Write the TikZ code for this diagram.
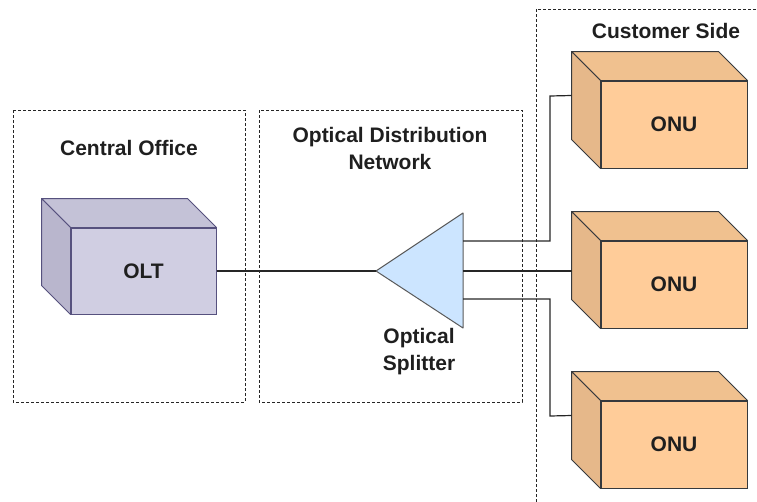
\documentclass[tikz,border=0pt]{standalone}
\usepackage{fontspec}
\setmainfont{Liberation Sans}
\begin{document}
\begin{tikzpicture}[x=1pt,y=-1pt,
  lbl/.style={font=\bfseries\fontsize{21}{27}\selectfont, text=black!88, align=center, inner sep=0pt},
  zone/.style={draw=black!85, line width=0.9pt, dash pattern=on 3pt off 2pt},
  olt/.style={draw=oltS, fill=oltF, line width=1pt, minimum width=145pt, minimum height=86pt, inner sep=0pt, font=\bfseries\fontsize{21}{24}\selectfont, text=black!88},
  onu/.style={draw=onuS, fill=onuF, line width=1pt, minimum width=146pt, minimum height=87pt, inner sep=0pt, font=\bfseries\fontsize{21}{24}\selectfont, text=black!88},
  face/.style={line width=1pt, line join=round},
  wire/.style={draw=black!85, line width=1.2pt}
]
\definecolor{oltF}{HTML}{D0CEE2}
\definecolor{oltT}{HTML}{C4C2D7}
\definecolor{oltL}{HTML}{B9B6CD}
\definecolor{oltS}{HTML}{56517E}
\definecolor{onuF}{HTML}{FFCC99}
\definecolor{onuT}{HTML}{F0C18F}
\definecolor{onuL}{HTML}{E6B88A}
\definecolor{onuS}{HTML}{36393D}
\definecolor{splF}{HTML}{CCE5FF}
\definecolor{splS}{HTML}{5A5A5A}

\useasboundingbox (0,0) rectangle (757,501);
\clip (0,0) rectangle (757,501);

% zones
\draw[zone] (13,110) rectangle (245,402);
\draw[zone] (259,110) rectangle (522,402);
\draw[zone] (536,9) rectangle (780,520);

\node[lbl] (colbl) at (129,148) {Central Office};
\node[lbl] (odnlbl) at (390,148.5) {Optical Distribution\\Network};
\node[lbl] (cslbl) at (666,31) {Customer Side};

% OLT
\node[olt] (olt) at (143.5,271) {OLT};
\fill[face, fill=oltT, draw=oltS] (olt.north west) -- ++(-29pt,29pt) -- ([shift={(-29pt,29pt)}]olt.north east) -- (olt.north east) -- cycle;
\fill[face, fill=oltL, draw=oltS] (olt.north west) -- ++(-29pt,29pt) -- ([shift={(-29pt,29pt)}]olt.south west) -- (olt.south west) -- cycle;

% ONUs
\foreach \n/\y in {onu1/124.5, onu2/284.5, onu3/444.5}{
  \node[onu] (\n) at (674,\y) {ONU};
  \fill[face, fill=onuT, draw=onuS] (\n.north west) -- ++(-29pt,29pt) -- ([shift={(-29pt,29pt)}]\n.north east) -- (\n.north east) -- cycle;
  \fill[face, fill=onuL, draw=onuS] (\n.north west) -- ++(-29pt,29pt) -- ([shift={(-29pt,29pt)}]\n.south west) -- (\n.south west) -- cycle;
  \coordinate (\n-in) at ([shift={(-29pt,29pt)}]\n.west);
}

% splitter
\coordinate (spltip) at (376,271);
\coordinate (splA) at (463,241);
\coordinate (splB) at (463,271);
\coordinate (splC) at (463,299);
\draw[face, fill=splF, draw=splS] (spltip) -- (463,213) -- (463,328) -- cycle;
\node[lbl] (spllbl) at (419,351.5) {Optical\\Splitter};

% wires
\draw[wire] (olt.east) -- (spltip);
\draw[wire] (splA) -| (550,96) -- (onu1-in);
\draw[wire] (splB) -- (splB -| onu2-in);
\draw[wire] (splC) -| (550,416) -- (onu3-in);
\end{tikzpicture}
\end{document}
